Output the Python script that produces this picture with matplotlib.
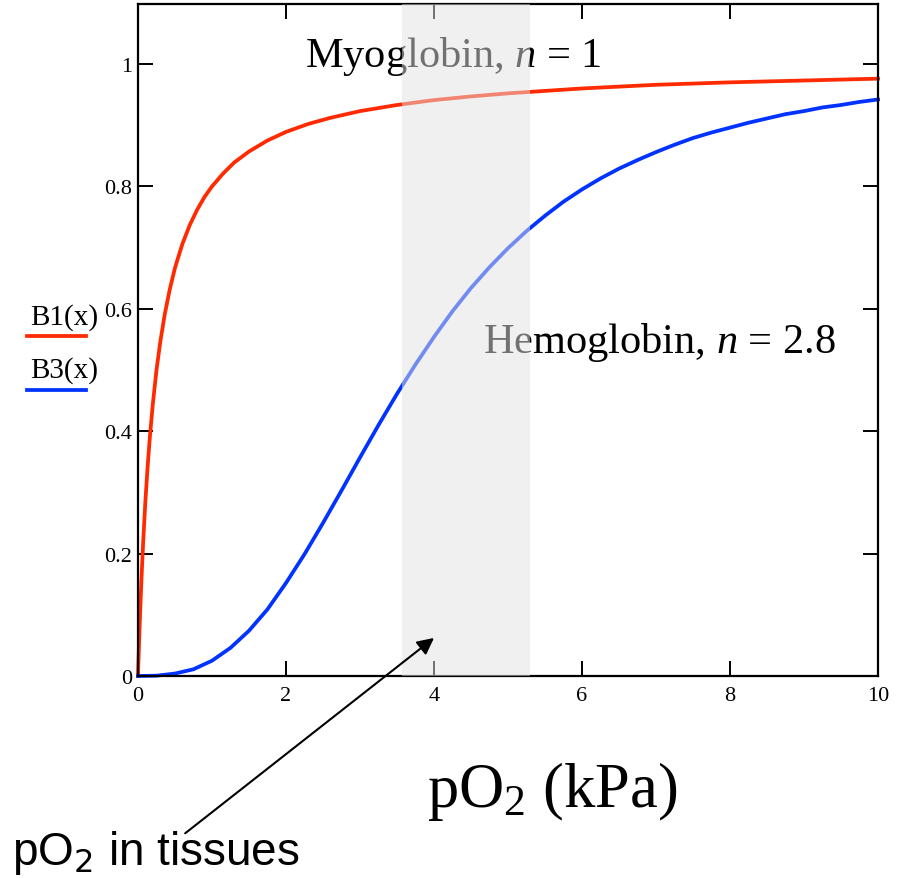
# Curvas de saturacion de oxigeno: mioglobina (n = 1) y hemoglobina (n = 2.8)

import matplotlib.pyplot as plt
from matplotlib.lines import Line2D

# Presion parcial de O2 (kPa) y fraccion de saturacion de cada curva
x_mio = [0, 0.005, 0.01, 0.02, 0.03, 0.05, 0.07, 0.1, 0.13, 0.16, 0.2, 0.25, 0.3, 0.36, 0.43,
         0.5, 0.6, 0.7, 0.8, 0.9, 1.0, 1.15, 1.3, 1.5, 1.75, 2.0, 2.3, 2.6, 3.0, 3.5,
         4, 4.5, 5, 6, 7, 8, 9, 10]
y_mio = [0, 0.02, 0.038, 0.074, 0.107, 0.167, 0.219, 0.286, 0.342, 0.39, 0.444, 0.5, 0.545, 0.59, 0.632,
         0.667, 0.706, 0.737, 0.762, 0.783, 0.8, 0.821, 0.839, 0.857, 0.875, 0.889, 0.902, 0.912, 0.923, 0.933,
         0.941, 0.947, 0.952, 0.96, 0.966, 0.97, 0.973, 0.976]

x_hemo = [0, 0.25, 0.5, 0.75, 1.0, 1.25, 1.5, 1.75, 2.0, 2.25, 2.5, 2.75, 3.0, 3.25, 3.5, 3.75,
          4.0, 4.25, 4.5, 4.75, 5.0, 5.25, 5.5, 5.75, 6.0, 6.25, 6.5, 6.75, 7.0, 7.25, 7.5, 7.75,
          8.0, 8.25, 8.5, 8.75, 9.0, 9.25, 9.5, 9.75, 10]
y_hemo = [0, 0.0005, 0.004, 0.011, 0.025, 0.046, 0.074, 0.109, 0.152, 0.199, 0.25, 0.303, 0.357, 0.41, 0.461, 0.509,
          0.554, 0.596, 0.634, 0.668, 0.699, 0.727, 0.752, 0.775, 0.795, 0.813, 0.829, 0.843, 0.856, 0.868, 0.879, 0.888,
          0.896, 0.904, 0.911, 0.918, 0.923, 0.929, 0.933, 0.938, 0.942]

zona_tejidos = [3.57, 5.3]          # rango de pO2 en los tejidos
ticks_x = [0, 2, 4, 6, 8, 10]
ticks_y = [0, 0.2, 0.4, 0.6, 0.8, 1]
etiquetas_y = ['0', '0.2', '0.4', '0.6', '0.8', '1']

ROJO = '#ff2a00'
AZUL = '#0033ff'

plt.rcParams['font.family'] = 'Liberation Serif'
plt.rcParams['mathtext.fontset'] = 'custom'
plt.rcParams['mathtext.rm'] = 'Liberation Serif'
plt.rcParams['mathtext.it'] = 'Liberation Serif:italic'

fig = plt.figure(figsize=(9.03, 8.79), dpi=100)
ax = fig.add_axes([138 / 903, 202 / 879, 740 / 903, 672 / 879])

ax.plot(x_mio, y_mio, color=ROJO, lw=2.7, clip_on=False, zorder=2)
ax.plot(x_hemo, y_hemo, color=AZUL, lw=2.7, clip_on=False, zorder=2)

# Banda gris semitransparente por encima de todo (curvas, texto y ejes)
ax.axvspan(zona_tejidos[0], zona_tejidos[1], color='#e3e3e3', alpha=0.5, lw=0, zorder=4)

ax.text(0.2257, 0.9077, 'Myoglobin, $n$ = 1', transform=ax.transAxes,
        fontsize=30.5, va='baseline', ha='left', zorder=3)
ax.text(0.466, 0.482, 'Hemoglobin, $n$ = 2.8', transform=ax.transAxes,
        fontsize=30.5, va='baseline', ha='left', zorder=3)

ax.set_xlim(0, 10)
ax.set_ylim(0, 1.098)
ax.set_xticks(ticks_x)
ax.set_yticks(ticks_y)
ax.set_yticklabels(etiquetas_y)
ax.tick_params(direction='in', length=10.8, width=1.4, labelsize=16,
               top=True, right=True)
ax.tick_params(axis='x', pad=7)
ax.tick_params(axis='y', pad=4)
for lado in ax.spines.values():
    lado.set_linewidth(1.6)

# Leyenda a la izquierda: nombre de la funcion con su linea debajo
fig.text(30 / 903, 1 - 325 / 879, 'B1(x)', fontsize=21, va='baseline', ha='left')
fig.add_artist(Line2D([27 / 903, 86 / 903], [1 - 337 / 879, 1 - 337 / 879], color=ROJO, lw=2.7))
fig.text(30 / 903, 1 - 378 / 879, 'B3(x)', fontsize=21, va='baseline', ha='left')
fig.add_artist(Line2D([27 / 903, 86 / 903], [1 - 391 / 879, 1 - 391 / 879], color=AZUL, lw=2.7))

# Etiqueta del eje x
fig.text(427 / 903, 1 - 807 / 879, r'pO$_2$ (kPa)', fontsize=45, va='baseline', ha='left')

# Flecha hacia la zona de los tejidos
ax.annotate('', xy=(4.03, 0.065), xycoords='data',
            xytext=(183, 879 - 836), textcoords='figure pixels',
            arrowprops=dict(arrowstyle='-|>', color='black', lw=1.5, mutation_scale=25),
            annotation_clip=False, zorder=5)
fig.text(12 / 903, 1 - 865 / 879, r'pO$_2$ in tissues', fontsize=33, va='baseline', ha='left',
         family='Liberation Sans', math_fontfamily='dejavusans')

fig.savefig('out.png', dpi=100)
